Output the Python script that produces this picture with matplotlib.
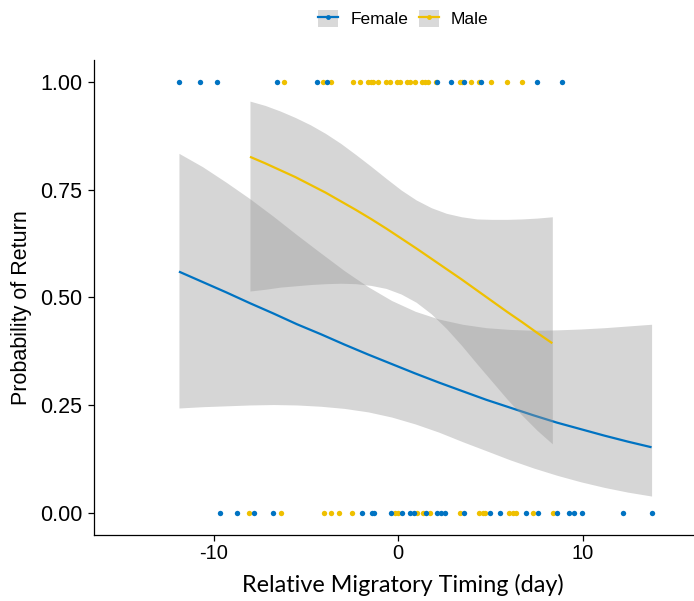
import numpy as np
import matplotlib
matplotlib.use("Agg")
import matplotlib.pyplot as plt
from matplotlib.lines import Line2D
from matplotlib.patches import Patch
from matplotlib.legend_handler import HandlerTuple

plt.rcParams["font.family"] = ["Liberation Sans", "DejaVu Sans"]
plt.rcParams["axes.unicode_minus"] = False

# relative migratory timing (day) of birds that returned (1) or not (0)
female_returned = [-11.89, -10.75, -9.84, -6.56, -4.42, -3.88, 2.08, 2.84, 3.56, 4.47, 7.50, 8.89]
female_not_returned = [-9.66, -8.73, -7.82, -6.79, -1.95, -1.44, -1.32, -0.41, 0.22, 0.63,
                       0.87, 1.50, 2.11, 2.30, 2.53, 3.58, 4.97, 5.51, 6.92, 7.59,
                       8.62, 9.25, 9.52, 9.97, 12.16, 13.73]
male_returned = [-6.20, -4.10, -3.66, -2.47, -2.08, -1.63, -1.50, -1.36, -1.08, -0.67,
                 -0.45, -0.05, 0.09, 0.46, 0.63, 0.91, 1.27, 1.45, 1.63, 2.04,
                 3.34, 3.43, 3.94, 4.39, 5.02, 5.91, 6.69]
male_not_returned = [-8.08, -6.37, -4.01, -3.66, -3.20, -2.49, -0.18, 0.00, 1.03, 1.36,
                     1.72, 3.34, 4.39, 4.57, 4.70, 6.02, 6.20, 6.38, 7.32, 8.37]

# logistic smooth and 95% band
female_x = [-11.89, -10.61, -9.33, -8.05, -6.77, -5.49, -4.20, -2.92, -1.64, -0.36, 0.92,
            2.20, 3.48, 4.77, 6.05, 7.33, 8.61, 9.89, 11.17, 12.45, 13.73]
female_fit = [0.560, 0.536, 0.512, 0.487, 0.463, 0.438, 0.415, 0.391, 0.368, 0.346, 0.324,
              0.303, 0.283, 0.263, 0.245, 0.227, 0.210, 0.195, 0.180, 0.166, 0.153]
female_lower = [0.244, 0.247, 0.249, 0.251, 0.252, 0.251, 0.248, 0.243, 0.235, 0.223, 0.207,
                0.188, 0.166, 0.145, 0.124, 0.105, 0.088, 0.073, 0.060, 0.049, 0.040]
female_upper = [0.834, 0.803, 0.767, 0.729, 0.688, 0.645, 0.603, 0.562, 0.525, 0.493, 0.468,
                0.450, 0.438, 0.430, 0.426, 0.424, 0.425, 0.427, 0.430, 0.434, 0.438]

male_x = [-8.04, -7.22, -6.40, -5.58, -4.76, -3.94, -3.12, -2.30, -1.48, -0.66, 0.155,
          0.97, 1.79, 2.61, 3.43, 4.25, 5.07, 5.89, 6.71, 7.53, 8.35]
male_fit = [0.826, 0.811, 0.795, 0.779, 0.761, 0.743, 0.723, 0.703, 0.682, 0.660, 0.637,
            0.614, 0.590, 0.566, 0.542, 0.517, 0.492, 0.467, 0.443, 0.418, 0.394]
male_lower = [0.515, 0.519, 0.524, 0.527, 0.530, 0.532, 0.533, 0.532, 0.528, 0.521, 0.508,
              0.489, 0.462, 0.428, 0.389, 0.347, 0.306, 0.265, 0.227, 0.192, 0.161]
male_upper = [0.955, 0.945, 0.932, 0.917, 0.900, 0.880, 0.857, 0.831, 0.804, 0.776, 0.749,
              0.726, 0.708, 0.695, 0.687, 0.682, 0.681, 0.681, 0.682, 0.684, 0.687]

groups = ["Female", "Male"]
colors = {"Female": "#0073C2", "Male": "#EFC000"}
x_ticks = [-10, 0, 10]
y_ticks = [0.00, 0.25, 0.50, 0.75, 1.00]

points = {
    "Female": (female_returned, female_not_returned),
    "Male": (male_returned, male_not_returned),
}
smooths = {
    "Female": (female_x, female_fit, female_lower, female_upper),
    "Male": (male_x, male_fit, male_lower, male_upper),
}

fig = plt.figure(figsize=(6.94, 6.01), dpi=100)
ax = fig.add_axes([0.1353, 0.110, 0.8772, 0.790])

for g in groups:
    sx, fit, lo, hi = smooths[g]
    ax.fill_between(sx, lo, hi, color="#999999", alpha=0.4, linewidth=0, zorder=2)
    ax.plot(sx, fit, color=colors[g], lw=1.6, zorder=2, solid_capstyle="butt")

for g in ["Male", "Female"]:
    ret, nret = points[g]
    x = np.array(ret + nret, dtype=float)
    y = np.array([1.0] * len(ret) + [0.0] * len(nret))
    ax.scatter(x, y, s=15, color=colors[g], linewidths=0, zorder=3)

ax.set_xlim(-16.5, 16.5)
ax.set_ylim(-0.05, 1.05)
ax.set_xticks(x_ticks)
ax.set_xticklabels([str(t) for t in x_ticks])
ax.set_yticks(y_ticks)
ax.set_yticklabels([f"{t:.2f}" for t in y_ticks])
for side in ["top", "right"]:
    ax.spines[side].set_visible(False)
for side in ["left", "bottom"]:
    ax.spines[side].set_linewidth(0.9)
    ax.spines[side].set_color("black")
ax.tick_params(axis="x", length=4.5, width=0.9, pad=2, labelsize=14.5, colors="black")
ax.tick_params(axis="y", length=4.5, width=0.9, pad=4, labelsize=15.5, colors="black")

fig.text(403 / 694, 1 - 591.7 / 601, "Relative Migratory Timing (day)",
         family=["Lato", "DejaVu Sans"], fontsize=16.8, ha="center", va="baseline")
fig.text(32 / 694, 1 - 308 / 601, "Probability of Return", fontsize=15.5,
         rotation=90, ha="right", va="center")

handles = []
for g in groups:
    key_bg = Patch(facecolor="#D9D9D9", edgecolor="none")
    key_line = Line2D([0], [0], color=colors[g], lw=1.6, marker="o", markersize=3.5,
                      markeredgewidth=0)
    handles.append((key_bg, key_line))
fig.legend(
    handles=handles,
    labels=groups,
    handler_map={tuple: HandlerTuple(ndivide=1, pad=0)},
    loc="center",
    bbox_to_anchor=(403.5 / 694, 1 - 18.8 / 601),
    ncol=2,
    frameon=False,
    fontsize=12.5,
    handlelength=1.15,
    handleheight=1.1,
    handletextpad=0.7,
    columnspacing=0.6,
    borderpad=0,
)

fig.savefig("out.png", dpi=100)
